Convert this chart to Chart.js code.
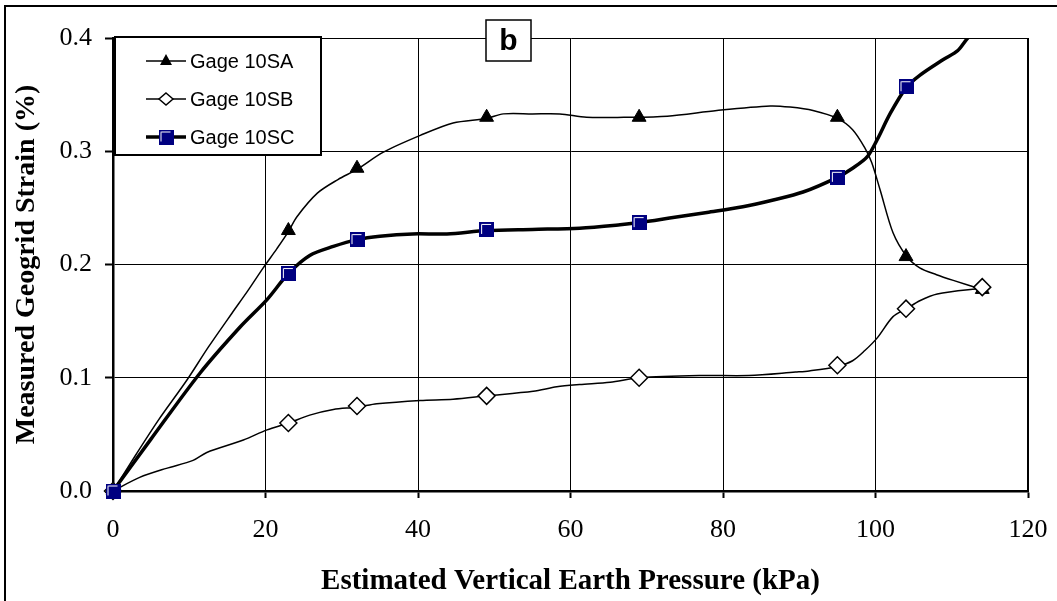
<!DOCTYPE html>
<html>
<head>
<meta charset="utf-8">
<title>Geogrid strain - Gage 10S</title>
<script src="https://cdn.jsdelivr.net/npm/chart.js@4.4.1/dist/chart.umd.min.js"></script>
<style>
  html, body { margin: 0; padding: 0; background: #fff; }
  #wrap { position: relative; width: 1057px; height: 601px; overflow: hidden; }
  #frame { position: absolute; left: 4px; top: 5px; width: 1200px; height: 800px;
           border-left: 2px solid #000; border-top: 2px solid #000; }
  #strainChart { position: absolute; left: 0; top: 0; }
</style>
</head>
<body>
<div id="wrap">
  <div id="frame"></div>
  <canvas id="strainChart" width="1057" height="601"></canvas>
</div>
<script>
/*===================================================================
   Data
==================================================================*/
// pressure steps where markers are plotted (kPa)
const pressure = [0, 23, 32, 49, 69, 95, 104, 114]
const gage10SA = [0, 0.230, 0.285, 0.330, 0.330, 0.330, 0.207, 0.178]
const gage10SB = [0, 0.060, 0.075, 0.084, 0.100, 0.111, 0.161, 0.180]
const gage10SC = [0, 0.192, 0.222, 0.231, 0.237, 0.277, 0.357, 0.415]

// traced curves between the markers
const saTraceX = [0, 3, 6, 9.7, 12.5, 15.6, 17.6, 19.7, 21.5, 23, 24.1, 26.8, 29.5, 32, 35.4, 40.3, 44.6, 49, 51.2, 55, 58.6, 62.1, 67, 72.7, 79.2, 86.2, 88.8, 91.8, 95, 97, 98.6, 99.5, 100.6, 102.3, 104.1, 105.8, 108, 110.2, 114]
const saTraceY = [0, 0.032, 0.063, 0.098, 0.127, 0.157, 0.176, 0.197, 0.214, 0.229, 0.242, 0.263, 0.275, 0.284, 0.299, 0.314, 0.325, 0.329, 0.333, 0.333, 0.333, 0.330, 0.330, 0.331, 0.336, 0.340, 0.339, 0.336, 0.329, 0.319, 0.303, 0.290, 0.266, 0.228, 0.207, 0.197, 0.191, 0.186, 0.178]

const sbTraceX = [0, 3.5, 7, 10.5, 12.3, 17.1, 20.2, 23, 25.8, 28.9, 32, 34.6, 40.3, 44.6, 49, 55.1, 58.2, 61.2, 65.2, 69, 76.9, 83.4, 89.5, 91.3, 95, 97, 98.6, 100.2, 102.3, 104.1, 105.8, 108.1, 114]
const sbTraceY = [0, 0.012, 0.020, 0.027, 0.034, 0.045, 0.054, 0.060, 0.067, 0.072, 0.074, 0.077, 0.080, 0.081, 0.084, 0.088, 0.092, 0.094, 0.096, 0.100, 0.102, 0.102, 0.105, 0.106, 0.110, 0.115, 0.124, 0.135, 0.154, 0.161, 0.168, 0.174, 0.179]

const scTraceX = [0, 5, 11.4, 16.7, 20.2, 23, 25.8, 28.9, 32, 35, 39.3, 43.8, 49, 55, 61.2, 66.5, 69, 73, 77.9, 82.6, 86.6, 90.5, 95, 97, 98.9, 100.2, 101.9, 104, 105.8, 108.9, 110.8, 112.1, 114]
const scTraceY = [0, 0.046, 0.104, 0.145, 0.169, 0.192, 0.208, 0.216, 0.222, 0.225, 0.227, 0.227, 0.230, 0.231, 0.232, 0.235, 0.237, 0.241, 0.246, 0.251, 0.257, 0.264, 0.277, 0.285, 0.295, 0.310, 0.333, 0.356, 0.367, 0.381, 0.389, 0.400, 0.412]

const xTicks = [0, 20, 40, 60, 80, 100, 120]
const yTicks = [0, 0.1, 0.2, 0.3, 0.4]
const seriesNames = ['Gage 10SA', 'Gage 10SB', 'Gage 10SC']
const panelLabel = 'b'

/*===================================================================
   helpers
==================================================================*/
const toPoints = (xs, ys) => xs.map((x, i) => ({ x: x, y: ys[i] }))

// excel style navy square with white inner corner
const makeSquare = () => {
  const c = document.createElement('canvas')
  c.width = 15; c.height = 15
  const g = c.getContext('2d')
  g.fillStyle = '#000080'
  g.fillRect(0, 0, 15, 15)
  g.strokeStyle = '#fff'
  g.lineWidth = 1
  g.beginPath()
  g.moveTo(2.5, 12)
  g.lineTo(2.5, 2.5)
  g.lineTo(12, 2.5)
  g.stroke()
  return c
}
const squareMark = makeSquare()

const serif = "'Liberation Serif', 'Times New Roman', serif"
const sans = "'Liberation Sans', Arial, sans-serif"

const PAD_LEFT = 10, PAD_BOTTOM = 2
const PLOT_LEFT = 113, PLOT_BOTTOM = 491
// markers may spill over the left/bottom axes but not above the plot
const markClip = { left: 10, bottom: 10, top: 0, right: 0 }

/*===================================================================
   legend + panel label drawn inside the plot
==================================================================*/
const boxPlugin = {
  id: 'boxPlugin',
  afterDraw(chart) {
    const ctx = chart.ctx
    const a = chart.chartArea
    ctx.save()
    // heavier right edge of plot
    ctx.strokeStyle = '#000'
    ctx.lineWidth = 2
    ctx.beginPath()
    ctx.moveTo(a.right, a.top)
    ctx.lineTo(a.right, a.bottom)
    ctx.stroke()

    // legend box
    const lx = a.left + 2, ly = a.top - 1, lw = 206, lh = 118
    ctx.fillStyle = '#fff'
    ctx.fillRect(lx, ly, lw, lh)
    ctx.lineWidth = 2
    ctx.strokeRect(lx, ly, lw, lh)

    const rows = [
      { w: 1.5, style: 'triangle' },
      { w: 1.5, style: 'diamond' },
      { w: 3.5, style: 'square' }
    ]
    rows.forEach((r, i) => {
      const cy = ly + 24 + i * 38
      ctx.strokeStyle = '#000'
      ctx.lineWidth = r.w
      ctx.beginPath()
      ctx.moveTo(lx + 31, cy)
      ctx.lineTo(lx + 71, cy)
      ctx.stroke()
      const mx = lx + 51
      if (r.style === 'triangle') {
        ctx.fillStyle = '#000'
        ctx.beginPath()
        ctx.moveTo(mx, cy - 7)
        ctx.lineTo(mx + 6, cy + 4)
        ctx.lineTo(mx - 6, cy + 4)
        ctx.closePath()
        ctx.fill()
      } else if (r.style === 'diamond') {
        ctx.fillStyle = '#fff'
        ctx.lineWidth = 1.5
        ctx.beginPath()
        ctx.moveTo(mx, cy - 6)
        ctx.lineTo(mx + 7, cy)
        ctx.lineTo(mx, cy + 6)
        ctx.lineTo(mx - 7, cy)
        ctx.closePath()
        ctx.fill()
        ctx.stroke()
      } else {
        ctx.drawImage(squareMark, mx - 7.5, cy - 7.5)
      }
      ctx.fillStyle = '#000'
      ctx.font = '20px ' + sans
      ctx.textBaseline = 'middle'
      ctx.textAlign = 'left'
      ctx.fillText(seriesNames[i], lx + 75, cy + 1)
    })

    // panel label "b"
    const bx = 486, by = 20, bw = 45, bh = 41
    ctx.fillStyle = '#fff'
    ctx.fillRect(bx, by, bw, bh)
    ctx.strokeStyle = '#000'
    ctx.lineWidth = 1.5
    ctx.strokeRect(bx, by, bw, bh)
    ctx.fillStyle = '#000'
    ctx.font = 'bold 30px ' + sans
    ctx.textAlign = 'center'
    ctx.textBaseline = 'middle'
    ctx.fillText(panelLabel, bx + bw / 2, by + bh / 2 + 1)
    ctx.restore()
  }
}

/*===================================================================
   chart
==================================================================*/
const ctx = document.getElementById('strainChart').getContext('2d')
const strainChart = new Chart(ctx, {
  type: 'scatter',
  data: {
    datasets: [
      // curves
      { label: seriesNames[0] + ' curve', data: toPoints(saTraceX, saTraceY), showLine: true,
        borderColor: '#000', borderWidth: 1.5, pointRadius: 0, tension: 0.3, order: 6 },
      { label: seriesNames[1] + ' curve', data: toPoints(sbTraceX, sbTraceY), showLine: true,
        borderColor: '#000', borderWidth: 1.5, pointRadius: 0, tension: 0.3, order: 5 },
      { label: seriesNames[2] + ' curve', data: toPoints(scTraceX, scTraceY), showLine: true,
        borderColor: '#000', borderWidth: 3.5, pointRadius: 0, tension: 0.3, order: 4 },
      // markers
      { label: seriesNames[0], data: toPoints(pressure, gage10SA), showLine: false,
        pointStyle: 'triangle', pointRadius: 8, backgroundColor: '#000', borderColor: '#000',
        borderWidth: 1, order: 3, clip: markClip },
      { label: seriesNames[1], data: toPoints(pressure, gage10SB), showLine: false,
        pointStyle: 'rectRot', pointRadius: 8.5, backgroundColor: '#fff', borderColor: '#000',
        borderWidth: 1.5, order: 2, clip: markClip },
      { label: seriesNames[2], data: toPoints(pressure, gage10SC), showLine: false,
        pointStyle: squareMark, pointRadius: 7.5, order: 1, clip: markClip }
    ]
  },
  options: {
    responsive: false,
    animation: false,
    events: [],
    layout: { padding: { top: 38, right: 29, left: PAD_LEFT, bottom: PAD_BOTTOM } },
    plugins: {
      legend: { display: false },
      tooltip: { enabled: false }
    },
    scales: {
      x: {
        type: 'linear',
        min: 0, max: 120,
        afterBuildTicks: (s) => { s.ticks = xTicks.map(v => ({ value: v })) },
        afterFit: (s) => {
          s.height = 601 - PLOT_BOTTOM - PAD_BOTTOM
          s.paddingLeft = 0
          s.paddingRight = 0
        },
        grid: { color: '#000', lineWidth: 1, tickLength: 7, tickColor: '#000', tickWidth: 2 },
        border: { display: true, color: '#000', width: 2.5 },
        ticks: { color: '#000', font: { family: serif, size: 26 }, padding: 17, maxRotation: 0 },
        title: { display: true, text: 'Estimated Vertical Earth Pressure (kPa)', color: '#000',
                 font: { family: serif, size: 29, weight: 'bold' }, padding: { top: 8, bottom: 0 } }
      },
      y: {
        type: 'linear',
        min: 0, max: 0.4,
        afterBuildTicks: (s) => { s.ticks = yTicks.map(v => ({ value: v })) },
        afterFit: (s) => { s.width = PLOT_LEFT - PAD_LEFT },
        grid: { color: '#000', lineWidth: 1, tickLength: 8, tickColor: '#000', tickWidth: 2 },
        border: { display: true, color: '#000', width: 2.5 },
        ticks: { color: '#000', font: { family: serif, size: 26 }, padding: 13,
                 callback: (v) => Number(v).toFixed(1) },
        title: { display: true, text: 'Measured Geogrid Strain (%)', color: '#000',
                 font: { family: serif, size: 28, weight: 'bold' }, padding: { top: 0, bottom: 6 } }
      }
    }
  },
  plugins: [boxPlugin]
})
</script>
</body>
</html>
